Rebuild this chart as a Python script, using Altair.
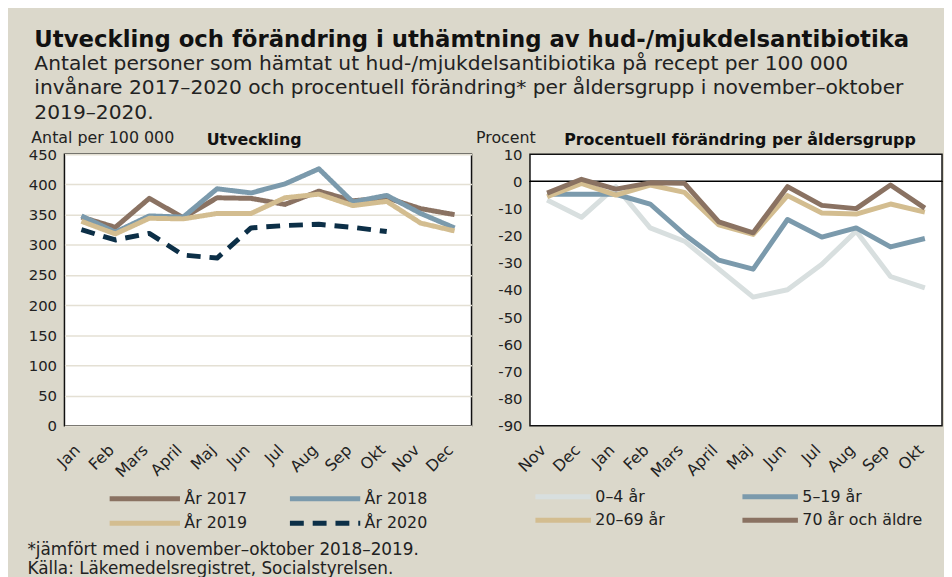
import altair as alt
import pandas as pd

FONT = "DejaVu Sans"
BG = "#dbd8cb"

# ---- Left panel data: antal per 100 000 ----
months_left = ["Jan", "Feb", "Mars", "April", "Maj", "Jun", "Jul", "Aug", "Sep", "Okt", "Nov", "Dec"]
years = ["År 2017", "År 2018", "År 2019", "År 2020"]
y2017 = [346, 329, 377, 345, 378, 377, 367, 389, 373, 378, 360, 350]
y2018 = [348, 321, 348, 346, 393, 386, 401, 426, 371, 382, 352, 328]
y2019 = [339, 318, 344, 343, 352, 352, 378, 384, 365, 372, 336, 323]
y2020 = [325, 308, 319, 283, 278, 328, 332, 334, 329, 322, None, None]
year_colors = ["#8a7262", "#7b9aac", "#d3bd90", "#0c2f47"]

# ---- Right panel data: procentuell förändring ----
months_right = ["Nov", "Dec", "Jan", "Feb", "Mars", "April", "Maj", "Jun", "Jul", "Aug", "Sep", "Okt"]
groups = ["0–4 år", "5–19 år", "20–69 år", "70 år och äldre"]
age_0_4 = [-6.8, -13.2, -1.9, -17.1, -22.0, -32.3, -42.6, -39.9, -30.5, -18.3, -35.0, -39.2]
age_5_19 = [-4.7, -4.7, -4.7, -8.3, -19.5, -29.0, -32.3, -14.0, -20.5, -17.1, -24.1, -21.0]
age_20_69 = [-5.6, -0.7, -5.0, -1.3, -4.0, -16.0, -19.5, -5.2, -11.6, -12.0, -8.3, -11.3]
age_70 = [-4.3, 0.8, -2.8, -0.5, -0.7, -14.9, -18.9, -1.9, -8.8, -10.0, -1.3, -9.8]
group_colors = ["#d8dfdf", "#7b9aac", "#d3bd90", "#8a7262"]

left_rows = []
for name, vals in zip(years, [y2017, y2018, y2019, y2020]):
    for m, v in zip(months_left, vals):
        if v is not None:
            left_rows.append({"serie": name, "månad": m, "värde": v})
left_df = pd.DataFrame(left_rows)

right_rows = []
for name, vals in zip(groups, [age_0_4, age_5_19, age_20_69, age_70]):
    for m, v in zip(months_right, vals):
        right_rows.append({"grupp": name, "månad": m, "procent": v})
right_df = pd.DataFrame(right_rows)

common_x_axis = dict(labelAngle=315, labelAlign="right", labelBaseline="top", labelPadding=16,
                     labelOffset=-10, ticks=False, domain=False, grid=False, labelFontSize=16,
                     title=None, labelColor="#222222", labelFont=FONT)


def y_axis(values, title, title_x):
    return alt.Axis(values=values, title=title, titleAngle=0, titleAlign="left",
                    titleBaseline="alphabetic", titleX=title_x, titleY=-12, titleFontSize=16,
                    titleFontWeight="normal", titleColor="#222222", labelFontSize=15,
                    labelColor="#222222", labelPadding=8, ticks=False, domain=False,
                    labelOverlap=False, labelExpr="datum.value + ''",
                    gridColor="#e4e0d4", gridWidth=1.5)


def legend(x, y, size, label_offset, col_pad):
    return alt.Legend(title=None, orient="none", legendX=x, legendY=y, direction="horizontal",
                      columns=2, symbolType="M-1,0H7", symbolStrokeWidth=5, symbolSize=size,
                      labelOffset=label_offset, columnPadding=col_pad, rowPadding=3,
                      labelFontSize=16, labelColor="#222222", labelFont=FONT,
                      symbolFillColor="transparent")


left_legend = legend(43, 336, 315, 55, 32)

left = alt.Chart(left_df).mark_line(strokeWidth=5, strokeJoin="round").encode(
    x=alt.X("månad:N", sort=months_left, scale=alt.Scale(type="point", padding=0.5),
            axis=alt.Axis(**common_x_axis)),
    y=alt.Y("värde:Q", scale=alt.Scale(domain=[0, 450], nice=False),
            axis=y_axis(list(range(0, 451, 50)), "Antal per 100 000", -34)),
    color=alt.Color("serie:N", sort=years, scale=alt.Scale(domain=years, range=year_colors),
                    legend=left_legend),
    strokeDash=alt.StrokeDash("serie:N", sort=years,
                              scale=alt.Scale(domain=years, range=[[1, 0], [1, 0], [1, 0], [14, 9]]),
                              legend=left_legend),
).properties(
    width=411, height=274,
    title=alt.TitleParams("Utveckling", fontSize=16, fontWeight="bold", anchor="middle",
                          dx=-14, offset=-19, color="#111111", font=FONT),
)

right_y_axis = y_axis(list(range(-90, 11, 10)), "Procent", -55)
right_y_scale = alt.Scale(domain=[-90, 10], nice=False)

right_lines = alt.Chart(right_df).mark_line(strokeWidth=5, strokeJoin="round").encode(
    x=alt.X("månad:N", sort=months_right, scale=alt.Scale(type="point", padding=0.5),
            axis=alt.Axis(**common_x_axis)),
    y=alt.Y("procent:Q", scale=right_y_scale, axis=right_y_axis),
    color=alt.Color("grupp:N", sort=groups, scale=alt.Scale(domain=groups, range=group_colors),
                    legend=legend(3, 336, 196, 44, 67)),
)

zero_rule = alt.Chart(right_df).mark_rule(color="#000000", strokeWidth=1).encode(
    y=alt.YDatum(0, scale=right_y_scale, axis=right_y_axis)
)

right = alt.layer(zero_rule, right_lines).properties(
    width=416, height=274,
    title=alt.TitleParams("Procentuell förändring per åldersgrupp", fontSize=16, fontWeight="bold",
                          anchor="middle", dx=4, offset=-19, color="#111111", font=FONT),
)

panels = alt.hconcat(left, right, spacing=59, bounds="flush").resolve_scale(
    color="independent", x="independent", y="independent"
).resolve_legend(color="independent", strokeDash="independent").properties(
    title=alt.TitleParams(["*jämfört med i november–oktober 2018–2019.",
                           "Källa: Läkemedelsregistret, Socialstyrelsen."],
                          orient="bottom", anchor="start", fontSize=17, fontWeight="normal",
                          lineHeight=19, color="#222222", font=FONT, offset=8, dx=0)
)

chart = alt.vconcat(panels).properties(
    title=alt.TitleParams(
        "Utveckling och förändring i uthämtning av hud-/mjukdelsantibiotika",
        subtitle=["Antalet personer som hämtat ut hud-/mjukdelsantibiotika på recept per 100 000",
                  "invånare 2017–2020 och procentuell förändring* per åldersgrupp i november–oktober",
                  "2019–2020."],
        anchor="start", fontSize=23, fontWeight="bold", color="#111111", font=FONT,
        subtitleFontSize=20.4, subtitleColor="#222222", subtitleFont=FONT,
        subtitleLineHeight=24.5, subtitlePadding=2, dx=7, offset=6,
    ),
    padding={"left": 19, "top": 18, "right": 0, "bottom": 2},
    background=BG,
).configure(font=FONT).configure_axis(labelOverlap=False).configure_view(
    stroke="#111111", strokeWidth=1.5, fill="white"
)

chart.save("out.html", embed_options={"renderer": "svg", "actions": False})
